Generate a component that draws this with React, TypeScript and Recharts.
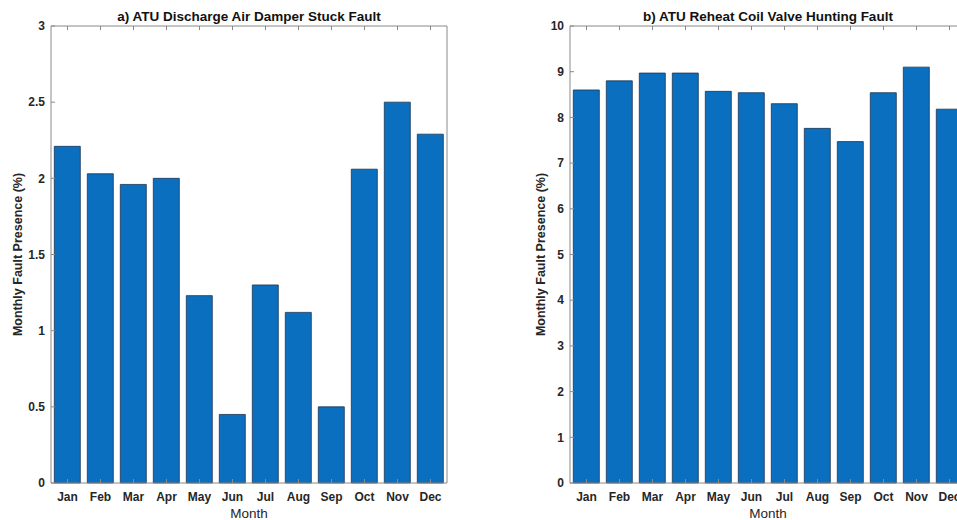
import React from "react";
import { BarChart, Bar, XAxis, YAxis } from "recharts";

const months = ["Jan", "Feb", "Mar", "Apr", "May", "Jun", "Jul", "Aug", "Sep", "Oct", "Nov", "Dec"];

// fault presence (%) per month
const damperStuck = [2.21, 2.03, 1.96, 2.0, 1.23, 0.45, 1.3, 1.12, 0.5, 2.06, 2.5, 2.29];
const valveHunting = [8.6, 8.8, 8.97, 8.97, 8.57, 8.54, 8.3, 7.76, 7.47, 8.54, 9.1, 8.18];

const damperTicks = [0, 0.5, 1, 1.5, 2, 2.5, 3];
const valveTicks = [0, 1, 2, 3, 4, 5, 6, 7, 8, 9, 10];

const FONT = "'Liberation Sans', Arial, sans-serif";
const AXIS = "#8a8a8a";
const TEXT = "#262626";
const BAR = "#0b6fbf";

const noLabel = () => <g />;

type PanelProps = {
  title: string;
  values: number[];
  ticks: number[];
  labelOffset: number;
};

function FaultPanel({ title, values, ticks, labelOffset }: PanelProps) {
  const data = months.map((m, i) => ({ month: m, value: values[i] }));
  const domain: [number, number] = [ticks[0], ticks[ticks.length - 1]];
  const tickStyle = { fontSize: 12, fontWeight: 700, fill: TEXT, fontFamily: FONT };

  return (
    <BarChart
      width={480}
      height={520}
      data={data}
      margin={{ top: 25, right: 32, bottom: 0, left: 0 }}
      barCategoryGap="10%"
    >
      <Bar
        dataKey="value"
        fill={BAR}
        stroke="#1b3552"
        strokeWidth={0.8}
        isAnimationActive={false}
      />
      <XAxis
        dataKey="month"
        height={37}
        stroke={AXIS}
        tickSize={-4}
        tickMargin={13}
        tick={tickStyle}
        interval={0}
        label={{
          value: "Month",
          position: "insideBottom",
          offset: 2,
          fill: TEXT,
          fontSize: 13.5,
          fontFamily: FONT,
        }}
      />
      <XAxis
        xAxisId="top"
        dataKey="month"
        orientation="top"
        height={1}
        stroke={AXIS}
        tickSize={-4}
        tick={noLabel}
        interval={0}
        label={{
          value: title,
          position: "top",
          offset: 4,
          fill: "#111",
          fontSize: 13.5,
          fontWeight: 700,
          fontFamily: FONT,
        }}
      />
      <YAxis
        width={51}
        domain={domain}
        ticks={ticks}
        stroke={AXIS}
        tickSize={-4}
        tickMargin={10}
        tick={tickStyle}
        label={{
          value: "Monthly Fault Presence (%)",
          angle: -90,
          position: "insideLeft",
          offset: labelOffset,
          fill: TEXT,
          fontSize: 12.5,
          fontWeight: 700,
          fontFamily: FONT,
          style: { textAnchor: "middle" },
        }}
      />
      <YAxis
        yAxisId="right"
        orientation="right"
        width={1}
        domain={domain}
        ticks={ticks}
        stroke={AXIS}
        tickSize={-4}
        tick={noLabel}
      />
    </BarChart>
  );
}

export default function App() {
  return (
    <div
      style={{
        position: "fixed",
        left: 0,
        top: 0,
        width: 957,
        height: 520,
        overflow: "hidden",
        background: "#fff",
      }}
    >
      <div style={{ position: "absolute", left: 0, top: 0 }}>
        <FaultPanel
          title="a) ATU Discharge Air Damper Stuck Fault"
          values={damperStuck}
          ticks={damperTicks}
          labelOffset={18}
        />
      </div>
      <div style={{ position: "absolute", left: 519, top: 0 }}>
        <FaultPanel
          title="b) ATU Reheat Coil Valve Hunting Fault"
          values={valveHunting}
          ticks={valveTicks}
          labelOffset={22}
        />
      </div>
    </div>
  );
}
